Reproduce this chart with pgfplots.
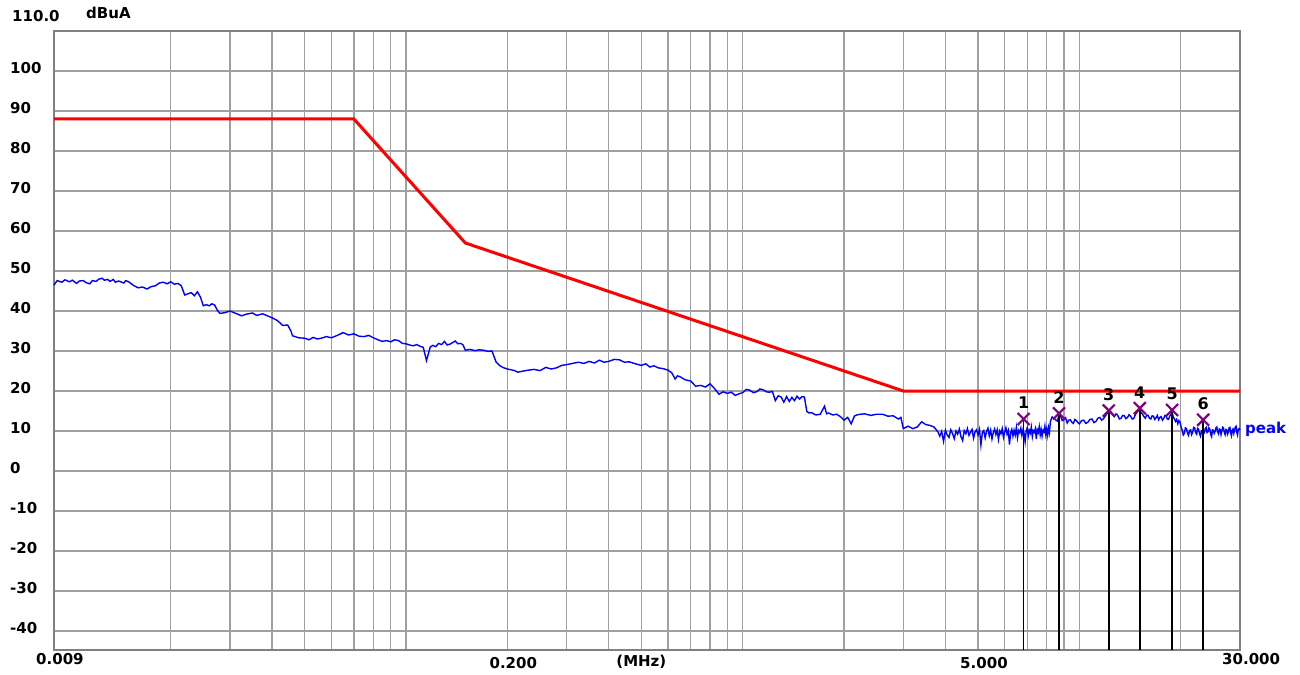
\documentclass[border=0pt]{standalone}
\usepackage{fontspec}
\setmainfont{DejaVu Sans}
\usepackage{pgfplots}
\pgfplotsset{compat=1.18}
\definecolor{gridgray}{RGB}{160,160,160}
\definecolor{framegray}{RGB}{128,128,128}
\definecolor{mkpurple}{RGB}{128,0,128}
\newcommand\lbl{\fontsize{15}{18}\selectfont\bfseries}
\newcommand\mlbl{\fontsize{16}{19}\selectfont\bfseries}
\begin{document}
\begin{tikzpicture}
\begin{axis}[
  xmode=log, log basis x=10,
  scale only axis, width=1186pt, height=619pt,
  xmin=0.009, xmax=30, ymin=-44.75, ymax=110,
  clip=false,
  axis line style={draw=framegray, line width=2.5pt},
  major tick length=0pt, minor tick length=0pt,
  xtick={0.009,0.2,5,30},
  xticklabels={0.009,\raisebox{-4pt}[\height][\depth]{0.200},\raisebox{-4pt}[\height][\depth]{5.000},30.000},
  minor xtick={0.02,0.03,0.04,0.05,0.06,0.07,0.08,0.09,0.1,0.3,0.4,0.5,0.6,0.7,0.8,0.9,1,2,3,4,6,7,8,9,10,20},
  ytick={-40,-30,-20,-10,0,10,20,30,40,50,60,70,80,90,100},
  yticklabels={-40,-30,-20,-10,0,10,20,30,40,50,60,70,80,90,100},
  grid=both,
  grid style={draw=gridgray, line width=1.3pt},
  minor grid style={draw=gridgray, line width=1.3pt},
  major grid style={draw=gridgray, line width=1.3pt},
  xticklabel style={font=\lbl, anchor=north west, inner sep=0pt, xshift=-18pt, yshift=-3.5pt},
  yticklabel style={font=\lbl, anchor=west, inner sep=0pt, xshift=-44pt, yshift=2.5pt},
]
% limit line
\addplot[red, line width=3pt] coordinates {(0.009,88)(0.07,88)(0.15,57)(3,20)(30,20)};
% peak trace
\addplot[blue, line width=1.4pt] coordinates {
(0.009,46.5)(0.0092,47.6)(0.0095,47.2)(0.0097,47.8)(0.0100,47.3)(0.0102,47.7)(0.0105,46.9)(0.0107,47.5)(0.0110,47.6)(0.0112,47.1)(0.0115,46.8)(0.0117,47.6)(0.0120,47.4)(0.0122,47.9)(0.0125,48.2)(0.0127,47.7)(0.0130,47.9)(0.0132,47.4)(0.0135,47.9)(0.0137,47.2)(0.0140,47.5)(0.0145,47.0)(0.0147,47.6)(0.0150,47.3)(0.0155,46.4)(0.0160,45.8)(0.0165,46.0)(0.0170,45.5)(0.0175,46.1)(0.0180,46.3)(0.0185,47.0)(0.0190,47.2)(0.0195,46.8)(0.0200,47.3)(0.0205,46.7)(0.0210,46.9)(0.0215,46.3)(0.0220,44.0)(0.0225,44.3)(0.0230,44.6)(0.0235,43.8)(0.0240,44.8)(0.0245,43.5)(0.0250,41.3)(0.0255,41.6)(0.0260,41.3)(0.0265,41.8)(0.0270,41.5)(0.0275,40.2)(0.0280,39.4)(0.0290,39.6)(0.0300,40.0)(0.0310,39.5)(0.0325,38.8)(0.0335,39.2)(0.0350,39.5)(0.0360,38.9)(0.0375,39.3)(0.0385,38.9)(0.0400,38.3)(0.0415,37.6)(0.0430,36.4)(0.0445,36.5)(0.0455,35.0)(0.0460,33.8)(0.0480,33.3)(0.0500,33.2)(0.0515,32.8)(0.0530,33.4)(0.0545,33.0)(0.0560,33.2)(0.0580,33.6)(0.0600,33.3)(0.0625,33.9)(0.0650,34.6)(0.0675,34.0)(0.0700,34.3)(0.0725,33.7)(0.0750,33.6)(0.0775,33.9)(0.0800,33.3)(0.0825,32.8)(0.0850,32.4)(0.0875,32.6)(0.0900,32.3)(0.0925,32.8)(0.0950,32.6)(0.0975,31.9)
(0.100,31.8)(0.1025,31.5)(0.105,31.3)(0.1075,31.6)(0.110,31.2)(0.1125,30.9)(0.115,27.6)(0.118,31.0)(0.120,31.4)(0.1225,31.1)(0.125,31.9)(0.1275,31.6)(0.130,32.4)(0.1325,31.5)(0.135,31.7)(0.1375,32.1)(0.140,32.5)(0.1425,31.8)(0.145,31.9)(0.1475,31.6)(0.150,30.2)(0.155,30.4)(0.160,30.1)(0.165,30.3)(0.170,30.2)(0.175,29.9)(0.180,30.0)(0.185,27.3)(0.190,26.3)(0.195,25.8)(0.200,25.5)(0.205,25.3)(0.210,25.1)(0.215,24.7)(0.220,24.9)(0.230,25.2)(0.240,25.4)(0.250,25.1)(0.260,25.9)(0.270,25.5)(0.280,25.8)(0.290,26.4)(0.300,26.6)(0.3125,26.9)(0.325,27.2)(0.3375,26.9)(0.350,27.4)(0.3625,27.0)(0.375,27.7)(0.3875,27.2)(0.400,27.4)(0.415,27.9)(0.430,27.8)(0.445,27.2)(0.460,27.3)(0.480,26.8)(0.500,26.4)(0.515,26.8)(0.530,26.0)(0.545,26.3)(0.560,25.8)(0.580,25.6)(0.600,25.2)(0.615,24.6)(0.630,23.0)(0.640,23.8)(0.650,23.6)(0.675,22.8)(0.700,22.5)(0.725,21.2)(0.750,21.4)(0.775,21.0)(0.800,21.8)(0.825,20.6)(0.850,19.2)(0.875,19.8)(0.900,19.4)(0.925,19.7)(0.950,18.9)(0.975,19.3)
(1.00,19.6)(1.025,20.4)(1.05,20.2)(1.075,19.6)(1.10,19.8)(1.125,20.5)(1.15,20.3)(1.175,19.8)(1.20,19.7)(1.225,19.9)(1.25,17.6)(1.275,18.8)(1.30,18.5)(1.325,17.2)(1.35,18.6)(1.375,17.4)(1.40,18.4)(1.425,17.6)(1.45,18.7)(1.475,18.0)(1.50,18.6)(1.525,18.5)(1.55,14.9)(1.575,14.5)(1.60,14.6)(1.65,14.0)(1.70,14.2)(1.75,16.2)(1.775,14.3)(1.80,14.5)(1.85,14.0)(1.90,14.2)(1.95,13.6)(2.00,12.7)(2.05,13.4)(2.10,11.8)(2.15,13.8)(2.20,14.1)(2.30,14.3)(2.40,13.9)(2.50,14.2)(2.60,14.2)(2.70,13.7)(2.80,13.8)(2.90,13.0)(2.95,13.4)(3.00,10.6)(3.10,11.2)(3.20,10.6)(3.30,11.0)(3.40,12.3)(3.50,11.6)(3.60,11.4)(3.70,11.0)(3.80,9.8)
(3.85,8.7)(3.90,9.9)(3.95,7.4)(4.00,10.2)(4.05,9.0)(4.10,8.4)(4.15,10.3)(4.20,9.4)(4.25,8.1)(4.30,10.0)(4.35,9.2)(4.40,10.5)(4.45,8.6)(4.50,7.6)(4.55,10.1)(4.60,9.3)(4.65,10.6)(4.70,8.9)(4.75,9.7)(4.80,10.4)(4.85,8.2)(4.90,9.8)(4.95,10.3)(5.00,9.0)(5.05,10.4)(5.10,6.5)(5.15,9.6)(5.20,10.1)(5.25,8.3)(5.30,9.9)(5.35,10.7)(5.40,8.8)(5.45,10.2)(5.50,8.0)(5.55,9.6)(5.60,10.5)(5.65,9.1)(5.70,10.3)(5.75,7.9)(5.80,10.0)(5.85,9.3)(5.90,10.6)(5.95,8.4)(6.00,9.7)(6.05,10.8)(6.10,9.2)(6.15,10.1)(6.20,6.6)(6.25,9.5)(6.30,10.4)(6.35,8.7)(6.40,10.2)(6.45,9.0)(6.50,10.9)(6.55,8.3)(6.60,10.1)(6.65,9.6)(6.70,10.7)(6.75,8.9)(6.80,10.3)(6.85,9.4)(6.90,7.3)(6.95,10.0)(7.00,10.8)(7.05,8.8)(7.10,10.2)(7.15,9.5)(7.20,11.0)(7.25,8.6)(7.30,10.1)(7.35,9.7)(7.40,10.6)(7.45,8.0)(7.50,10.3)(7.55,9.6)(7.60,11.1)(7.65,9.0)(7.70,10.4)(7.75,8.7)(7.80,10.2)(7.85,9.8)(7.90,11.2)(7.95,9.1)(8.00,10.5)(8.05,8.9)(8.10,10.8)(8.15,9.6)
(8.2,12.4)(8.3,13.5)(8.4,13.2)(8.5,12.8)(8.6,12.5)(8.7,13.9)(8.8,13.6)(8.9,12.6)(9.0,12.9)(9.1,13.3)(9.2,12.0)(9.3,12.7)(9.4,12.8)(9.5,12.2)(9.6,11.9)(9.7,12.9)(9.8,12.6)(9.9,12.1)(10.0,11.8)(10.15,12.6)(10.3,12.7)(10.45,11.9)(10.6,12.2)(10.75,12.9)(10.9,13.0)(11.05,12.1)(11.2,12.4)(11.35,13.2)(11.5,13.4)(11.65,12.7)(11.8,13.1)(11.95,13.8)(12.1,14.4)(12.25,15.0)(12.4,14.8)(12.55,14.1)(12.7,13.6)(12.85,14.3)(13.0,13.9)(13.15,13.0)(13.3,13.2)(13.45,13.9)(13.6,13.8)(13.75,13.1)(13.9,13.4)(14.05,14.1)(14.2,13.7)(14.35,13.0)(14.5,13.1)(14.65,14.0)(14.8,14.6)(14.95,15.0)(15.1,15.3)(15.25,14.6)(15.4,14.2)(15.55,13.6)(15.7,13.2)(15.85,14.0)(16.0,13.9)(16.15,13.2)(16.3,13.0)(16.45,13.8)(16.6,13.7)(16.75,12.9)(16.9,13.3)(17.05,13.9)(17.2,12.8)(17.35,13.4)(17.5,13.6)(17.65,12.7)(17.8,13.1)(17.95,13.9)(18.1,13.8)(18.25,13.0)(18.4,12.9)(18.55,13.7)(18.7,14.2)(18.85,14.8)(19.0,13.6)(19.15,13.0)(19.3,12.4)(19.45,12.9)(19.6,11.8)(19.75,12.6)(19.9,12.3)(20.05,11.0)
(20.2,10.2)(20.35,9.0)(20.5,9.4)(20.65,10.8)(20.8,10.6)(20.95,9.5)(21.1,8.9)(21.25,10.1)(21.4,10.3)(21.55,9.1)(21.7,9.7)(21.85,10.9)(22.0,10.8)(22.15,9.6)(22.3,9.2)(22.45,10.7)(22.6,10.4)(22.75,9.3)(22.9,8.7)(23.05,10.0)(23.2,10.1)(23.35,9.4)(23.5,9.5)(23.65,10.6)(23.8,10.9)(23.95,9.6)(24.1,9.8)(24.25,10.8)(24.4,10.5)(24.55,9.2)(24.7,8.6)(24.85,10.3)(25.0,10.2)(25.15,9.4)(25.3,9.9)(25.45,10.8)(25.6,11.0)(25.75,9.8)(25.9,9.3)(26.05,10.5)(26.2,10.4)(26.35,9.1)(26.5,10.0)(26.65,10.9)(26.8,10.7)(26.95,9.6)(27.1,9.1)(27.25,10.4)(27.4,10.3)(27.55,9.2)(27.7,9.7)(27.85,10.8)(28.0,10.9)(28.15,9.5)(28.3,8.8)(28.45,10.2)(28.6,10.5)(28.75,9.4)(28.9,10.1)(29.05,11.0)(29.2,11.2)(29.35,9.7)(29.5,9.0)(29.65,10.4)(29.8,10.6)(30.0,10.2)
};
% marker drop lines
\addplot[black, line width=1.5pt, unbounded coords=jump] coordinates {
(6.83,13.0)(6.83,-44.75)(6.83,nan)
(8.70,14.4)(8.70,-44.75)(8.70,nan)
(12.23,15.1)(12.23,-44.75)(12.23,nan)
(15.12,15.7)(15.12,-44.75)(15.12,nan)
(18.86,15.25)(18.86,-44.75)(18.86,nan)
(23.32,12.8)(23.32,-44.75)
};
% markers
\addplot[only marks, mark=x, mark size=8.5pt, color=mkpurple, line width=2.2pt,
  nodes near coords, point meta=explicit symbolic,
  every node near coord/.append style={anchor=center, yshift=16pt, text=black, font=\mlbl, inner sep=0pt}]
  coordinates {(6.83,13.0)[1] (8.70,14.4)[2] (12.23,15.1)[3] (15.12,15.7)[4] (18.86,15.25)[5] (23.32,12.8)[6]};
\node[font=\lbl, text=blue, anchor=base west, inner sep=0pt, xshift=5pt] at (axis cs:30,9.5) {peak};
\node[font=\lbl, anchor=north, inner sep=0pt, yshift=-5pt] at (axis cs:0.5,-44.75) {(MHz)};
\node[font=\lbl, anchor=base west, inner sep=0pt, xshift=-42pt, yshift=9.3pt] at (rel axis cs:0,1) {110.0};
\node[font=\lbl, anchor=base west, inner sep=0pt, xshift=32pt, yshift=12.7pt] at (rel axis cs:0,1) {dBuA};
\end{axis}
\path ([shift={(-54pt,-24pt)}]current axis.south west) rectangle ([shift={(60pt,31pt)}]current axis.north east);
\end{tikzpicture}
\end{document}
